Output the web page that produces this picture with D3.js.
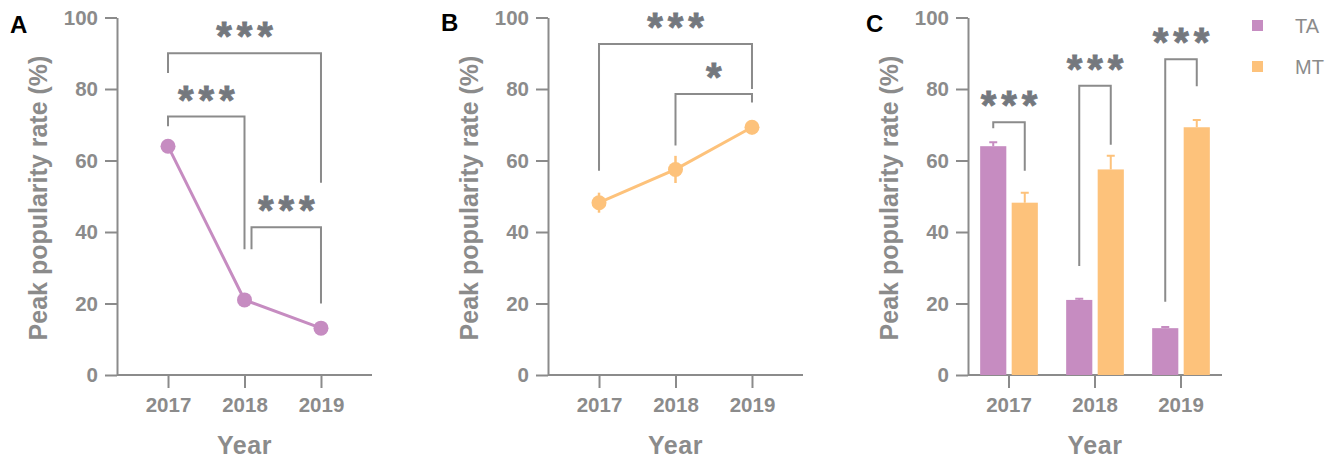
<!DOCTYPE html>
<html>
<head>
<meta charset="utf-8">
<script src="https://cdn.jsdelivr.net/npm/d3@7"></script>
<style>
  body { margin: 0; background: #fff; }
  svg { display: block; font-family: "Liberation Sans", Arial, sans-serif; }
</style>
</head>
<body>
<svg id="chart" width="1336" height="461"></svg>
<script>
// ---- data ----
const years = ['2017', '2018', '2019'];
const seriesNames = ['TA', 'MT'];
const taValues = [64.0, 21.0, 13.1];
const taErrors = [1.1, 0.3, 0.3];
const mtValues = [48.2, 57.5, 69.3];
const mtErrors = [2.8, 3.8, 2.0];
const yTicks = [0, 20, 40, 60, 80, 100];

// significance brackets (heights in % units)
const bracketsA = [
    { from: '2017', to: '2019', level: 90.0, fromEnd: 84.5, toEnd: 53.8, label: '***' },
    { from: '2017', to: '2018', level: 72.3, fromEnd: 69.6, toEnd: 35.2, label: '***' },
    { from: '2018', to: '2019', level: 41.3, fromEnd: 35.2, toEnd: 20.0, label: '***', nudge: 7 }
];
const bracketsB = [
    { from: '2017', to: '2019', level: 92.6, fromEnd: 57.1, toEnd: 80.0, label: '***' },
    { from: '2018', to: '2019', level: 78.6, fromEnd: 64.2, toEnd: 76.2, label: '*' }
];
const bracketsC = [
    { year: '2017', level: 70.7, fromEnd: 69.0, toEnd: 57.1, label: '***' },
    { year: '2018', level: 80.9, fromEnd: 30.5, toEnd: 64.4, label: '***' },
    { year: '2019', level: 88.3, fromEnd: 20.5, toEnd: 80.8, label: '***' }
];

const colors = { TA: '#c68cc1', MT: '#fdc27b' };
const gray = '#8b8b8b';
const starGray = '#74787e';

const svg = d3.select('#chart');
const y = d3.scaleLinear().domain([0, 100]).range([375, 17.5]);

function drawFrame(g, axisX, axisRight, xScale, letter, letterPos) {
    // y axis
    const yAxis = g.append('g')
        .attr('transform', `translate(${axisX},0)`)
        .call(d3.axisLeft(y).tickValues(yTicks).tickSize(12).tickSizeOuter(0).tickPadding(7));
    // x axis
    const xAxis = g.append('g')
        .attr('transform', `translate(0,${y(0)})`)
        .call(d3.axisBottom(xScale).tickSize(13).tickSizeOuter(0).tickPadding(9));
    xAxis.select('.domain').attr('d', `M${axisX},0H${axisRight}`);

    [yAxis, xAxis].forEach(a => {
        a.selectAll('path, line').attr('stroke', gray).attr('stroke-width', 2);
        a.selectAll('text')
            .attr('fill', gray)
            .attr('font-size', 20.5)
            .attr('font-weight', 'bold')
            .attr('font-family', '"Liberation Sans", Arial, sans-serif');
    });

    const mid = (xScale.range()[0] + xScale.range()[1]) / 2;

    g.append('text')
        .attr('transform', `translate(${axisX - 79},198) rotate(-90)`)
        .attr('text-anchor', 'middle')
        .attr('dominant-baseline', 'central')
        .attr('fill', gray)
        .attr('font-size', 25)
        .attr('font-weight', 'bold')
        .text('Peak popularity rate (%)');

    g.append('text')
        .attr('x', mid)
        .attr('y', 454)
        .attr('text-anchor', 'middle')
        .attr('fill', gray)
        .attr('font-size', 25)
        .attr('font-weight', 'bold')
        .attr('letter-spacing', 0.5)
        .text('Year');

    g.append('text')
        .attr('x', letterPos[0])
        .attr('y', letterPos[1])
        .attr('fill', '#000')
        .attr('font-size', 24)
        .attr('font-weight', 'bold')
        .text(letter);
}

function drawBracket(g, x1, x2, b) {
    g.append('path')
        .attr('d', `M${x1},${y(b.fromEnd)}V${y(b.level)}H${x2}V${y(b.toEnd)}`)
        .attr('fill', 'none')
        .attr('stroke', gray)
        .attr('stroke-width', 2);

    const spacing = 5;
    g.append('text')
        .attr('x', (x1 + x2) / 2 + spacing / 2)
        .attr('y', y(b.level) - 3)
        .attr('text-anchor', 'middle')
        .attr('fill', starGray)
        .attr('stroke', starGray)
        .attr('stroke-width', 0.8)
        .attr('font-size', 40)
        .attr('font-weight', 'bold')
        .attr('letter-spacing', spacing)
        .text(b.label);
}

function drawLinePanel(axisX, axisRight, values, errors, color, brackets, letter, letterPos) {
    const g = svg.append('g');
    const x = d3.scalePoint().domain(years).range([axisX, axisRight]).padding(0.667);

    drawFrame(g, axisX, axisRight, x, letter, letterPos);

    brackets.forEach(b => drawBracket(g, x(b.from) + (b.nudge || 0), x(b.to), b));

    const pts = years.map((yr, i) => ({ year: yr, value: values[i], err: errors[i] }));

    g.selectAll('.err')
        .data(pts)
        .join('line')
        .attr('class', 'err')
        .attr('x1', d => x(d.year))
        .attr('x2', d => x(d.year))
        .attr('y1', d => y(d.value - d.err))
        .attr('y2', d => y(d.value + d.err))
        .attr('stroke', color)
        .attr('stroke-width', 2.5);

    g.append('path')
        .datum(pts)
        .attr('d', d3.line().x(d => x(d.year)).y(d => y(d.value)))
        .attr('fill', 'none')
        .attr('stroke', color)
        .attr('stroke-width', 3);

    g.selectAll('.dot')
        .data(pts)
        .join('circle')
        .attr('class', 'dot')
        .attr('cx', d => x(d.year))
        .attr('cy', d => y(d.value))
        .attr('r', 7.5)
        .attr('fill', color);
}

// ---- panel A & B ----
drawLinePanel(117, 372, taValues, taErrors, colors.TA, bracketsA, 'A', [10, 33]);
drawLinePanel(548, 803, mtValues, mtErrors, colors.MT, bracketsB, 'B', [441, 31]);

// ---- panel C ----
{
    const g = svg.append('g');
    const axisX = 968, axisRight = 1222;
    const x0 = d3.scaleBand().domain(years).range([966, 1224]).paddingInner(0.3).paddingOuter(0.15);
    const x1 = d3.scaleBand().domain(seriesNames).range([0, x0.bandwidth()]).paddingInner(0.17).paddingOuter(0.04);

    drawFrame(g, axisX, axisRight, x0, 'C', [866, 32]);

    const bars = [];
    years.forEach((yr, i) => {
        bars.push({ year: yr, key: 'TA', value: taValues[i], err: taErrors[i] });
        bars.push({ year: yr, key: 'MT', value: mtValues[i], err: mtErrors[i] });
    });
    const bx = d => x0(d.year) + x1(d.key);
    const cx = d => bx(d) + x1.bandwidth() / 2;

    g.selectAll('.err')
        .data(bars)
        .join('path')
        .attr('class', 'err')
        .attr('d', d => `M${cx(d)},${y(d.value)}V${y(d.value + d.err)}M${cx(d) - 4},${y(d.value + d.err)}H${cx(d) + 4}`)
        .attr('stroke', d => colors[d.key])
        .attr('stroke-width', 2)
        .attr('fill', 'none');

    g.selectAll('.bar')
        .data(bars)
        .join('rect')
        .attr('class', 'bar')
        .attr('x', bx)
        .attr('y', d => y(d.value))
        .attr('width', x1.bandwidth())
        .attr('height', d => y(0) - y(d.value))
        .attr('fill', d => colors[d.key]);

    bracketsC.forEach(b => {
        const a = x0(b.year) + x1('TA') + x1.bandwidth() / 2;
        const c = x0(b.year) + x1('MT') + x1.bandwidth() / 2;
        drawBracket(g, a, c, b);
    });

    // legend
    const legend = g.selectAll('.legend')
        .data(seriesNames)
        .join('g')
        .attr('class', 'legend')
        .attr('transform', (d, i) => `translate(1252,${20 + i * 41})`);
    legend.append('rect')
        .attr('width', 11)
        .attr('height', 11)
        .attr('fill', d => colors[d]);
    legend.append('text')
        .attr('x', 43)
        .attr('y', 6)
        .attr('dominant-baseline', 'central')
        .attr('fill', gray)
        .attr('font-size', 20)
        .text(d => d);
}
</script>
</body>
</html>
